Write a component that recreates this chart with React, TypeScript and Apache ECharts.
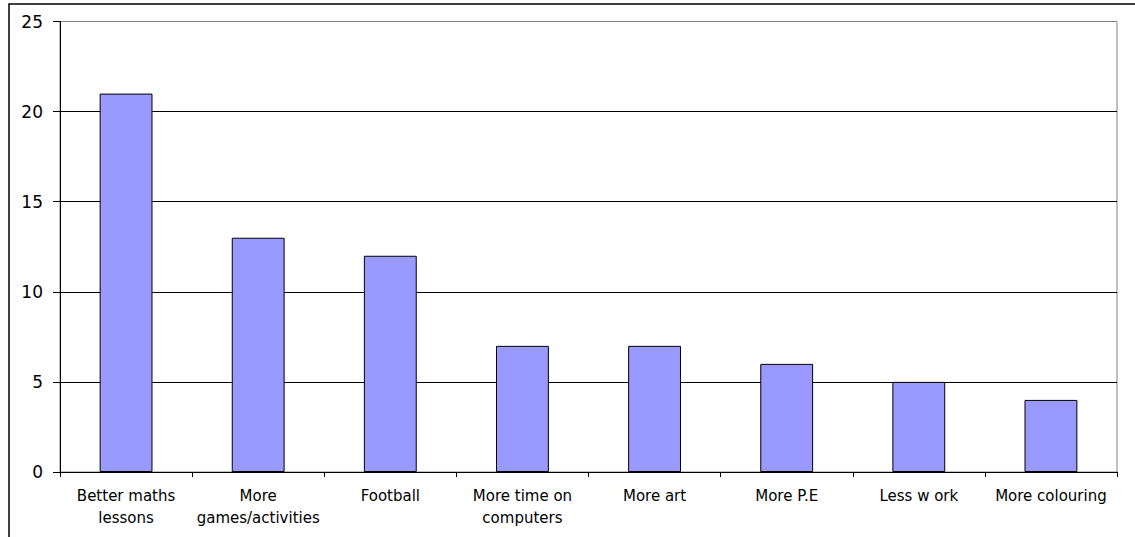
import React, { useEffect, useRef } from "react";
import * as echarts from "echarts";

// Suggestions for improving the school, with the number of pupils naming each
const categories = [
  "Better maths\nlessons",
  "More\ngames/activities",
  "Football",
  "More time on\ncomputers",
  "More art",
  "More P.E",
  "Less w ork",
  "More colouring",
];
const counts = [21, 13, 12, 7, 7, 6, 5, 4];
const yMin = 0;
const yMax = 25;
const yStep = 5;

const FONT = "'DejaVu Sans', 'Liberation Sans', Arial, sans-serif";

export default function App() {
  const ref = useRef<HTMLDivElement>(null);

  useEffect(() => {
    if (!ref.current) return;
    const chart = echarts.init(ref.current, undefined, { renderer: "svg" });
    chart.setOption({
      animation: false,
      backgroundColor: "#ffffff",
      graphic: [
        {
          type: "rect",
          shape: { x: 9, y: 4, width: 1400, height: 800 },
          style: { fill: "none", stroke: "#000000", lineWidth: 1.5 },
          silent: true,
          z: 100,
        },
      ],
      grid: {
        left: 60,
        top: 21.5,
        right: 18,
        bottom: 65,
        show: true,
        borderColor: "#808080",
        borderWidth: 1,
        backgroundColor: "transparent",
      },
      xAxis: {
        type: "category",
        data: categories,
        boundaryGap: true,
        axisLine: { show: true, lineStyle: { color: "#000000", width: 1 } },
        axisTick: {
          show: true,
          alignWithLabel: false,
          length: 5,
          lineStyle: { color: "#000000" },
        },
        axisLabel: {
          interval: 0,
          margin: 13,
          color: "#000000",
          fontFamily: FONT,
          fontSize: 15,
          lineHeight: 22,
        },
        splitLine: { show: false },
      },
      yAxis: {
        type: "value",
        min: yMin,
        max: yMax,
        interval: yStep,
        axisLine: { show: true, lineStyle: { color: "#000000", width: 1 } },
        axisTick: { show: true, length: 7, lineStyle: { color: "#000000" } },
        axisLabel: {
          margin: 17,
          color: "#000000",
          fontFamily: FONT,
          fontSize: 17,
        },
        splitLine: {
          show: true,
          lineStyle: {
            color: ["#000000", "#000000", "#000000", "#000000", "#000000", "#808080"],
            width: 1,
          },
        },
      },
      series: [
        {
          type: "bar",
          data: counts,
          barWidth: "40%",
          itemStyle: {
            color: "#9999ff",
            borderColor: "#000000",
            borderWidth: 1,
          },
        },
      ],
    });
    return () => chart.dispose();
  }, []);

  return (
    <div
      ref={ref}
      style={{ position: "absolute", left: 0, top: 0, width: 1135, height: 537 }}
    />
  );
}
